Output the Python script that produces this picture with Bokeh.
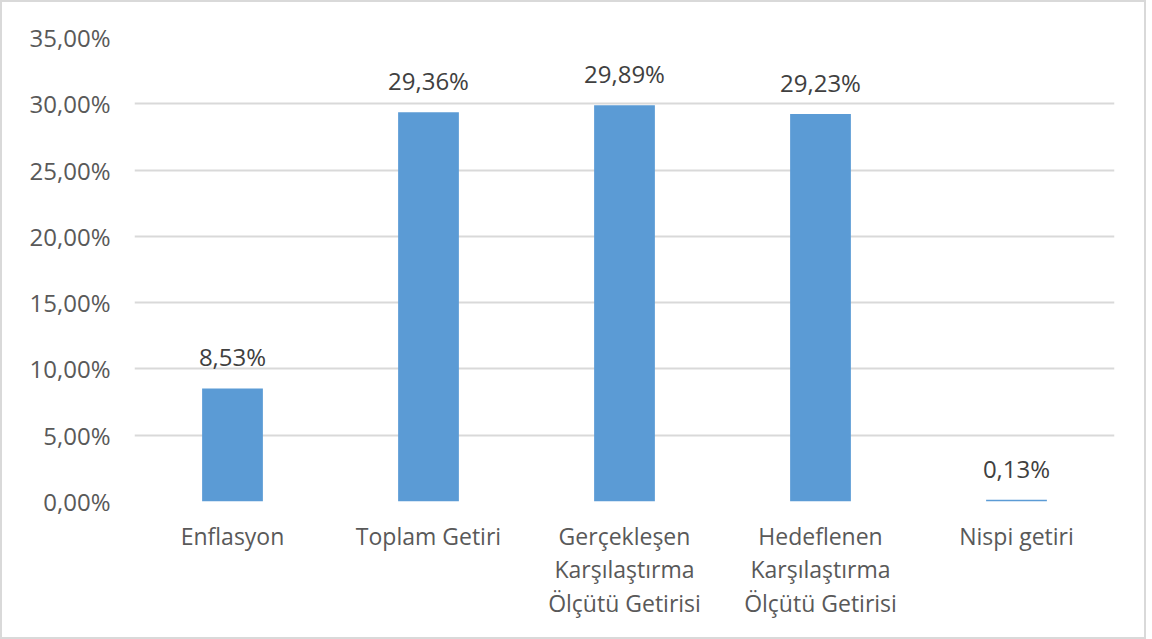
from bokeh.plotting import figure
from bokeh.models import ColumnDataSource, FactorRange, Range1d, CustomJSTickFormatter, LabelSet, FixedTicker
from bokeh.core.properties import value
from bokeh.embed import file_html
from bokeh.resources import INLINE

categories = ["Enflasyon", "Toplam Getiri", "Gerçekleşen\nKarşılaştırma\nÖlçütü Getirisi",
              "Hedeflenen\nKarşılaştırma\nÖlçütü Getirisi", "Nispi getiri"]
values = [8.53, 29.36, 29.89, 29.23, 0.13]
y_ticks = [0, 5, 10, 15, 20, 25, 30, 35]

labels = [f"{v:.2f}".replace(".", ",") + "%" for v in values]
src = ColumnDataSource(dict(cat=categories, val=values, lab=labels))

FONT = "Open Sans"
TXT = "#595959"

p = figure(x_range=FactorRange(*categories, range_padding=0), y_range=Range1d(0, 35),
           width=1146, height=639, output_backend="svg", toolbar_location=None,
           min_border_left=132, min_border_right=34, min_border_top=35, min_border_bottom=140)
p.styles = {"border": "2px solid #d9d9d9", "box-sizing": "border-box"}
p.outline_line_color = None
p.background_fill_color = "white"

p.vbar(x="cat", top="val", width=0.31, source=src, color="#5B9BD5", line_color=None)

p.add_layout(LabelSet(x="cat", y="val", text="lab", source=src, y_offset=22,
                      text_align="center", text_baseline="alphabetic",
                      text_font=value(FONT), text_font_size="24px", text_color="#404040"))

p.yaxis.ticker = FixedTicker(ticks=y_ticks)
p.yaxis.formatter = CustomJSTickFormatter(code="return tick.toFixed(2).replace('.', ',') + '%';")
for ax in (p.xaxis[0], p.yaxis[0]):
    ax.axis_line_color = None
    ax.major_tick_line_color = None
    ax.minor_tick_line_color = None
    ax.major_tick_out = 0
    ax.major_tick_in = 0
    ax.major_label_text_font = FONT
    ax.major_label_text_color = TXT
    ax.major_label_text_line_height = 1.05
p.yaxis.major_label_text_font_size = "24px"
p.xaxis.major_label_text_font_size = "23px"
p.yaxis.major_label_standoff = 24
p.xaxis.major_label_standoff = 18

p.xgrid.grid_line_color = None
p.ygrid.grid_line_color = "#d9d9d9"
p.ygrid.grid_line_width = 2

open("out.html", "w").write(file_html(p, INLINE))
